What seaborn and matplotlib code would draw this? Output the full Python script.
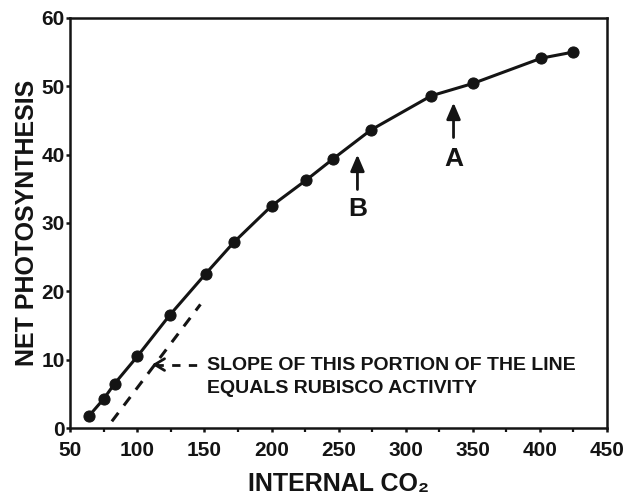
import numpy as np
import pandas as pd
import seaborn as sns
from matplotlib import pyplot as plt
from matplotlib.ticker import MultipleLocator

# internal CO2 vs net photosynthesis
internal_co2 = [64, 75, 83, 100, 124, 151, 172, 200, 226, 246, 274, 319, 350, 401, 425]
net_photo = [1.8, 4.3, 6.5, 10.5, 16.5, 22.6, 27.2, 32.5, 36.3, 39.4, 43.6, 48.6, 50.4, 54.1, 55.0]

# dashed initial-slope line
slope_x = [81, 147]
slope_y = [1.0, 18.1]

x_ticks = [50, 100, 150, 200, 250, 300, 350, 400, 450]
y_ticks = [0, 10, 20, 30, 40, 50, 60]

sns.set_style("ticks")
plt.rcParams["font.family"] = ["Liberation Sans Narrow", "Liberation Sans", "DejaVu Sans"]
plt.rcParams["font.weight"] = "bold"

ink = "#141414"
df = pd.DataFrame({"ci": internal_co2, "an": net_photo})

f = plt.figure(figsize=(6.33, 4.95), dpi=100)
ax = f.add_axes([0.111, 0.135, 0.848, 0.829])

sns.lineplot(
    data=df, x="ci", y="an", ax=ax, color=ink, linewidth=2.2,
    marker="o", markersize=8, markeredgecolor=ink, sort=False,
)
sns.lineplot(x=slope_x, y=slope_y, ax=ax, color=ink, linewidth=2.2, linestyle=(0, (3.5, 3)))

# "slope" note with dashed pointer
ax.plot([113.5, 150], [9.3, 9.3], color=ink, linewidth=2, linestyle=(0, (3, 3)))
ax.annotate("", xy=(111, 9.3), xytext=(115, 9.3),
            arrowprops=dict(arrowstyle="->,head_length=0.5,head_width=0.3", lw=2,
                            color=ink, mutation_scale=14, shrinkA=0, shrinkB=0))
ax.text(152, 7.5, "SLOPE OF THIS PORTION OF THE LINE\nEQUALS RUBISCO ACTIVITY",
        fontsize=14, fontweight="bold", ha="left", va="center", linespacing=1.5,
        color=ink)

# A and B arrows
for lab, xa, tip, tail, ly in [("B", 264, 40.0, 34.9, 32.1), ("A", 335.6, 47.6, 42.5, 39.4)]:
    ax.annotate("", xy=(xa, tip), xytext=(xa, tail),
                arrowprops=dict(arrowstyle="-|>,head_length=0.7,head_width=0.3", lw=2,
                                color=ink, mutation_scale=14, shrinkA=0, shrinkB=0))
    ax.text(xa, ly, lab, fontsize=19, fontweight="bold", ha="center", va="center", color=ink)

ax.set_xlim(50, 450)
ax.set_ylim(0, 60)
ax.set_xticks(x_ticks)
ax.set_yticks(y_ticks)
ax.xaxis.set_minor_locator(MultipleLocator(25))

for s in ax.spines.values():
    s.set_linewidth(1.8)
    s.set_color(ink)
ax.tick_params(axis="both", which="major", labelsize=15, width=1.8, length=3, direction="out",
               colors=ink, pad=1)
ax.tick_params(axis="x", which="major", pad=6)
ax.tick_params(axis="x", which="minor", width=1.6, length=3, direction="out", colors=ink)
for t in ax.get_xticklabels() + ax.get_yticklabels():
    t.set_fontweight("bold")

ax.set_xlabel("INTERNAL CO\u2082", fontsize=18, fontweight="bold", color=ink, labelpad=9)
ax.set_ylabel("NET PHOTOSYNTHESIS", fontsize=18, fontweight="bold", color=ink, labelpad=2)

f.savefig("out.png", dpi=100)
